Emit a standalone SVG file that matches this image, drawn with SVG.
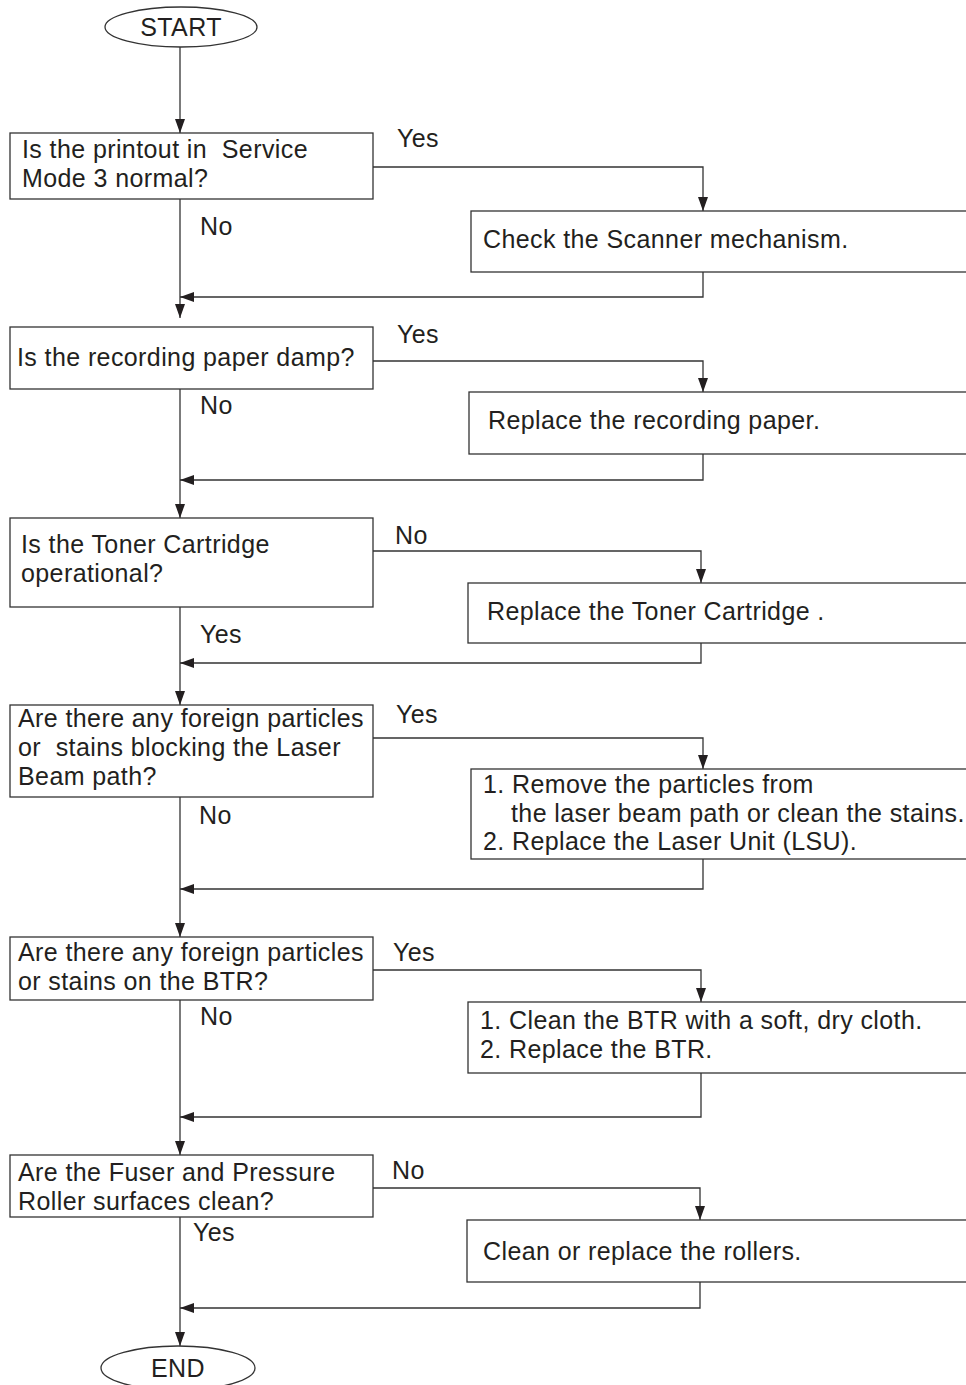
<svg xmlns="http://www.w3.org/2000/svg" width="966" height="1385" viewBox="0 0 966 1385">
<style>
text{font-family:"Liberation Sans",Arial,sans-serif;font-size:25px;letter-spacing:0.4px;fill:#231f20;white-space:pre}
.b{fill:#fff;stroke:#333;stroke-width:1.3}
.c{fill:none;stroke:#333;stroke-width:1.3}
</style>
<defs>
<marker id="a" viewBox="0 0 14 10" refX="14" refY="5" markerWidth="14" markerHeight="10" markerUnits="userSpaceOnUse" orient="auto"><path d="M0,0L14,5L0,10z" fill="#231f20"/></marker>
</defs>
<g id="connectors">
<path class="c" d="M180,47V133" marker-end="url(#a)"/>
<path class="c" d="M180,199V318" marker-end="url(#a)"/>
<path class="c" d="M373,167H703V211" marker-end="url(#a)"/>
<path class="c" d="M703,272V297H180" marker-end="url(#a)"/>
<path class="c" d="M180,389V518" marker-end="url(#a)"/>
<path class="c" d="M373,361H703V392" marker-end="url(#a)"/>
<path class="c" d="M703,454V480H180" marker-end="url(#a)"/>
<path class="c" d="M180,607V705" marker-end="url(#a)"/>
<path class="c" d="M373,551H701V583" marker-end="url(#a)"/>
<path class="c" d="M701,643V663H180" marker-end="url(#a)"/>
<path class="c" d="M180,797V937" marker-end="url(#a)"/>
<path class="c" d="M373,738H703V769" marker-end="url(#a)"/>
<path class="c" d="M703,859V889H180" marker-end="url(#a)"/>
<path class="c" d="M180,1000V1155" marker-end="url(#a)"/>
<path class="c" d="M373,970H701V1002" marker-end="url(#a)"/>
<path class="c" d="M701,1073V1117H180" marker-end="url(#a)"/>
<path class="c" d="M180,1217V1346" marker-end="url(#a)"/>
<path class="c" d="M373,1188H700V1220" marker-end="url(#a)"/>
<path class="c" d="M700,1282V1308H180" marker-end="url(#a)"/>
<text x="397" y="147">Yes</text>
<text x="200" y="235">No</text>
<text x="397" y="343">Yes</text>
<text x="200" y="414">No</text>
<text x="395" y="544">No</text>
<text x="200" y="643">Yes</text>
<text x="396" y="723">Yes</text>
<text x="199" y="824">No</text>
<text x="393" y="961">Yes</text>
<text x="200" y="1025">No</text>
<text x="392" y="1179">No</text>
<text x="193" y="1241">Yes</text>
</g>
<g id="start"><ellipse class="b" cx="181" cy="27" rx="76" ry="20"/><text x="181" y="36" text-anchor="middle">START</text></g>
<g id="q1"><rect class="b" x="10" y="133" width="363" height="66"/><text x="22" y="158">Is the printout in  Service</text><text x="22" y="187">Mode 3 normal?</text></g>
<g id="a1"><rect class="b" x="471" y="211" width="510" height="61"/><text x="483" y="248">Check the Scanner mechanism.</text></g>
<g id="q2"><rect class="b" x="10" y="327" width="363" height="62"/><text x="17" y="366">Is the recording paper damp?</text></g>
<g id="a2"><rect class="b" x="469" y="392" width="510" height="62"/><text x="488" y="429">Replace the recording paper.</text></g>
<g id="q3"><rect class="b" x="10" y="518" width="363" height="89"/><text x="21" y="553">Is the Toner Cartridge</text><text x="21" y="582">operational?</text></g>
<g id="a3"><rect class="b" x="468" y="583" width="510" height="60"/><text x="487" y="620">Replace the Toner Cartridge .</text></g>
<g id="q4"><rect class="b" x="10" y="705" width="363" height="92"/><text x="18" y="727">Are there any foreign particles</text><text x="18" y="756">or  stains blocking the Laser</text><text x="18" y="785">Beam path?</text></g>
<g id="a4"><rect class="b" x="471" y="769" width="510" height="90"/><text x="483" y="793">1. Remove the particles from</text><text x="511" y="822">the laser beam path or clean the stains.</text><text x="483" y="850">2. Replace the Laser Unit (LSU).</text></g>
<g id="q5"><rect class="b" x="10" y="937" width="363" height="63"/><text x="18" y="961">Are there any foreign particles</text><text x="18" y="990">or stains on the BTR?</text></g>
<g id="a5"><rect class="b" x="468" y="1002" width="510" height="71"/><text x="480" y="1029">1. Clean the BTR with a soft, dry cloth.</text><text x="480" y="1058">2. Replace the BTR.</text></g>
<g id="q6"><rect class="b" x="10" y="1155" width="363" height="62"/><text x="18" y="1181">Are the Fuser and Pressure</text><text x="18" y="1210">Roller surfaces clean?</text></g>
<g id="a6"><rect class="b" x="467" y="1220" width="510" height="62"/><text x="483" y="1260">Clean or replace the rollers.</text></g>
<g id="end"><ellipse class="b" cx="178" cy="1368" rx="77" ry="22"/><text x="178" y="1377" text-anchor="middle">END</text></g>
</svg>
